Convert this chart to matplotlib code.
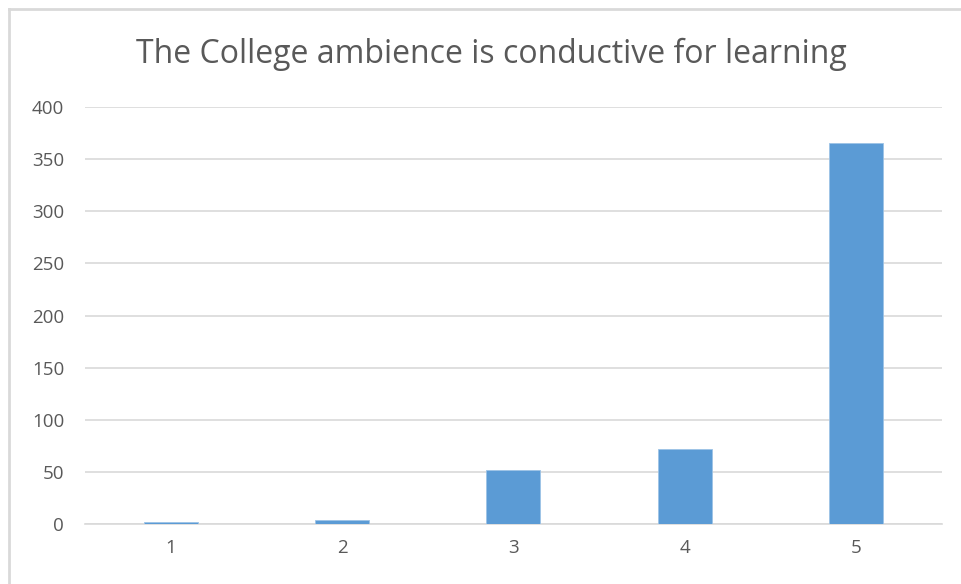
import matplotlib.pyplot as plt
import numpy as np

# 응답 척도 / 응답자 수
categories = ['1', '2', '3', '4', '5']
counts = [2, 4, 52, 72, 365]
yticks = [0, 50, 100, 150, 200, 250, 300, 350, 400]
title = 'The College ambience is conductive for learning'

plt.rcParams['font.family'] = ['Open Sans', 'DejaVu Sans']

fig = plt.figure(figsize=(9.61, 5.84), dpi=100)
ax = fig.add_axes([0.0885, 0.1027, 0.8915, 0.7141])

x = np.arange(len(categories))
ax.bar(x, counts, width=0.315, color='#5b9bd5', edgecolor='#9dc3e6', linewidth=0.6, zorder=3)

ax.set_xlim(-0.5, len(categories) - 0.5)
ax.set_ylim(0, 400)
ax.set_xticks(x)
ax.set_xticklabels(categories)
ax.set_yticks(yticks)
ax.grid(axis='y', color='#d9d9d9', linewidth=1.2, zorder=0)
ax.tick_params(length=0, colors='#595959', labelsize=13.5, pad=15)
ax.tick_params(axis='x', pad=11)
for s in ['top', 'right', 'left']:
    ax.spines[s].set_visible(False)
ax.spines['bottom'].set_color('#d9d9d9')
ax.spines['bottom'].set_linewidth(1.2)

fig.text(0.511, 1 - 63/584, title, ha='center', va='baseline', fontsize=23, color='#595959')

# 차트 테두리 (위, 왼쪽만 보임)
fig.add_artist(plt.Line2D([9/961, 1], [1-9/584, 1-9/584], color='#d9d9d9', linewidth=2))
fig.add_artist(plt.Line2D([9/961, 9/961], [0, 1-9/584], color='#d9d9d9', linewidth=2))

fig.savefig('out.png', dpi=100)
